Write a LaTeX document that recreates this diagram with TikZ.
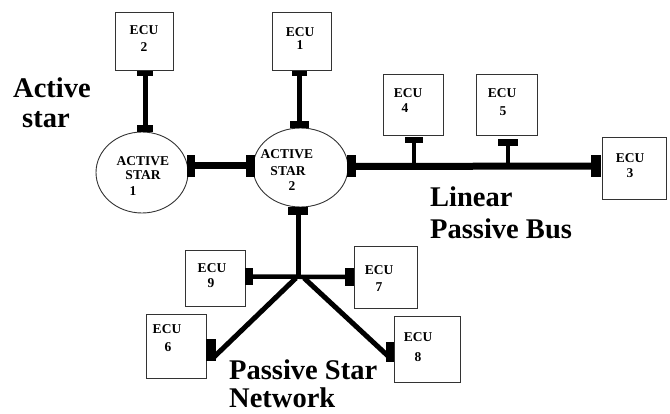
\documentclass[tikz,border=0pt]{standalone}
\usepackage{fontspec}
\setmainfont{Liberation Serif}
\usetikzlibrary{shapes.geometric}
\begin{document}
\begin{tikzpicture}[x=1pt,y=-1pt,
  ecu/.style={draw=black!80,line width=1pt,inner sep=0pt,rectangle},
  pad/.style={fill=black,draw=none,inner sep=0pt,rectangle},
  star/.style={ellipse,draw=black!80,line width=0.9pt,inner sep=0pt},
  small/.style={font=\fontsize{13.5}{14}\selectfont\bfseries,inner sep=0pt},
  big/.style={font=\fontsize{28.5}{30}\selectfont\bfseries,inner sep=0pt,anchor=base west},
  bus/.style={line width=7pt},
  wire/.style={line width=5pt},
  stem/.style={line width=4pt}]
\useasboundingbox (0,0) rectangle (670,414);

% ECU boxes
\node[ecu,minimum width=58,minimum height=58] (e2) at (144,42) {};
\node[ecu,minimum width=59,minimum height=58] (e1) at (301.5,42) {};
\node[ecu,minimum width=64,minimum height=62] (e3) at (634,169) {};
\node[ecu,minimum width=60,minimum height=61] (e4) at (413,105.5) {};
\node[ecu,minimum width=61,minimum height=61] (e5) at (506.5,105.5) {};
\node[ecu,minimum width=60,minimum height=56] (e9) at (215,279) {};
\node[ecu,minimum width=63,minimum height=62] (e7) at (385.5,278) {};
\node[ecu,minimum width=60,minimum height=63] (e6) at (176,346.5) {};
\node[ecu,minimum width=66,minimum height=65] (e8) at (427,349.5) {};

% ECU texts
\node[small] (t2) at (144,30) {ECU}; \node[small] (n2) at (144,47) {2};
\node[small] (t1) at (300,32) {ECU}; \node[small] (n1) at (300,45) {1};
\node[small] (t3) at (630,158) {ECU}; \node[small] (n3) at (630,173) {3};
\node[small] (t4) at (408,93) {ECU}; \node[small] (n4) at (405,108) {4};
\node[small] (t5) at (502,93) {ECU}; \node[small] (n5) at (503,111) {5};
\node[small] (t9) at (212,268) {ECU}; \node[small] (n9) at (211,283) {9};
\node[small] (t7) at (379,270) {ECU}; \node[small] (n7) at (379,287) {7};
\node[small] (t6) at (167,329) {ECU}; \node[small] (n6) at (168,347) {6};
\node[small] (t8) at (418,337) {ECU}; \node[small] (n8) at (418,357) {8};

% active stars
\node[star,minimum width=92,minimum height=81] (s1) at (142,172.5) {};
\node[star,minimum width=95,minimum height=79] (s2) at (300.5,167.5) {};
\node[small] (a1) at (143,161) {ACTIVE};
\node[small] (b1) at (143,175) {STAR};
\node[small] (c1) at (133,191) {1};
\node[small] (a2) at (287,154) {ACTIVE};
\node[small] (b2) at (288,171) {STAR};
\node[small] (c2) at (292,186) {2};

% pads
\node[pad,minimum width=16,minimum height=5] (p2a) at (145,73.5) {};
\node[pad,minimum width=16,minimum height=7] (p2b) at (145,128.5) {};
\node[pad,minimum width=15,minimum height=5] (p1a) at (299.5,73.5) {};
\node[pad,minimum width=19,minimum height=7] (p1b) at (299.5,124.5) {};
\node[pad,minimum width=8,minimum height=22] (s1r) at (191,166) {};
\node[pad,minimum width=9,minimum height=22] (s2l) at (250.5,166) {};
\node[pad,minimum width=9,minimum height=22] (s2r) at (351.5,166.5) {};
\node[pad,minimum width=10,minimum height=22] (e3l) at (596,166) {};
\node[pad,minimum width=18,minimum height=6] (p4) at (414,140) {};
\node[pad,minimum width=20,minimum height=7] (p5) at (508,142.5) {};
\node[pad,minimum width=20,minimum height=8] (s2b) at (298,211) {};
\node[pad,minimum width=8,minimum height=17] (p9) at (249,276.5) {};
\node[pad,minimum width=9,minimum height=18] (p7) at (349.5,277) {};
\node[pad,minimum width=10,minimum height=22] (p6) at (211,350) {};
\node[pad,minimum width=8,minimum height=20] (p8) at (390,352) {};

% junction coordinates
\coordinate (j) at (299.5,276);
\coordinate (jl) at (296,278);
\coordinate (jr) at (304,278);
\coordinate (c6) at (214,357);
\coordinate (c8) at (388,356);

% connectors
\draw[wire] (p2a.center) -- (p2b.center);
\draw[wire] (p1a.center) -- (p1b.center);
\draw[bus] (s1r.center) -- (s2l.center);
\draw[bus] (s2r.center) -- (e3l.center);
\draw[stem] (p4.center) -- (p4.center |- s2r.center);
\draw[stem] (p5.center) -- (p5.center |- s2r.center);
\draw[wire] (s2b.center) -- (s2b.center |- j);
\draw[stem,line width=4.5pt] (p9.center) -- (p7.center);
\draw[wire] (jl) -- (c6);
\draw[wire] (jr) -- (c8);

% labels
\node[big] (l1) at (13,97.5) {Active};
\node[big] (l2) at (22,128) {star};
\node[big] (l3) at (430,206.5) {Linear};
\node[big] (l4) at (430,238.5) {Passive Bus};
\node[big] (l5) at (229,379) {Passive Star};
\node[big] (l6) at (229,407) {Network};
\end{tikzpicture}
\end{document}
